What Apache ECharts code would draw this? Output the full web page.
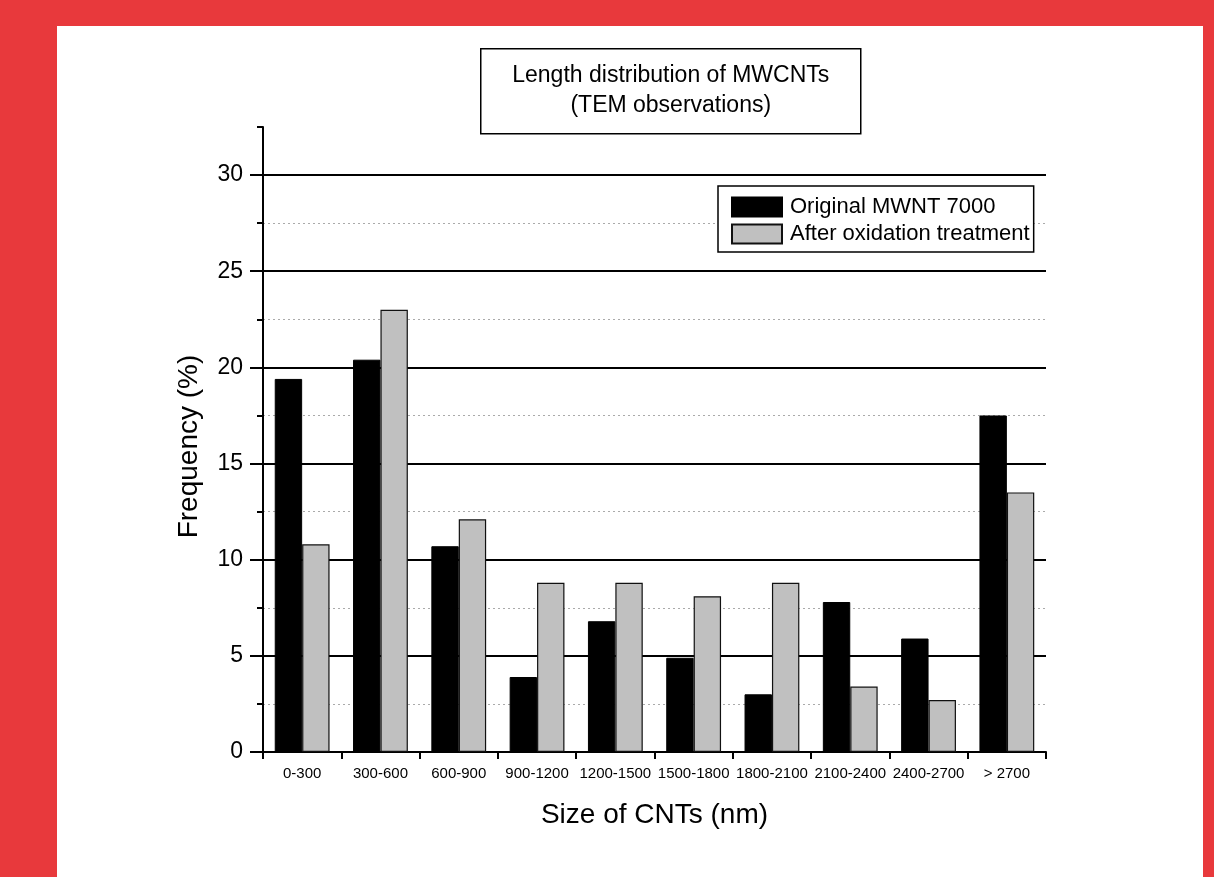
<!DOCTYPE html>
<html>
<head>
<meta charset="utf-8">
<script src="https://cdn.jsdelivr.net/npm/echarts@6/dist/echarts.min.js"></script>
<style>
  html, body { margin: 0; padding: 0; width: 1214px; height: 877px; background: #E8393C; overflow: hidden; }
  #panel { position: absolute; left: 57px; top: 26px; width: 1146px; height: 851px; background: #ffffff; }
  #chart { position: absolute; left: 0; top: 0; width: 1214px; height: 877px; }
</style>
</head>
<body>
<div id="panel"></div>
<div id="chart"></div>
<script>
const categories = ['0-300', '300-600', '600-900', '900-1200', '1200-1500', '1500-1800', '1800-2100', '2100-2400', '2400-2700', '> 2700'];
const originalValues = [19.4, 20.4, 10.7, 3.9, 6.8, 4.9, 3.0, 7.8, 5.9, 17.5];
const oxidizedValues = [10.8, 23.0, 12.1, 8.8, 8.8, 8.1, 8.8, 3.4, 2.7, 13.5];
const seriesNames = ['Original MWNT 7000', 'After oxidation treatment'];
const titleLines = ['Length distribution of MWCNTs', '(TEM observations)'];
const xAxisTitle = 'Size of CNTs (nm)';
const yAxisTitle = 'Frequency (%)';

const FONT = "'Liberation Sans', Arial, sans-serif";
const chart = echarts.init(document.getElementById('chart'), null, { renderer: 'canvas' });

const gridBase = { left: 263, right: 168, bottom: 125, containLabel: false };

chart.setOption({
  backgroundColor: 'transparent',
  animation: false,
  textStyle: { fontFamily: FONT },
  grid: [
    Object.assign({ top: 127 }, gridBase),
    Object.assign({ top: 175 }, gridBase)
  ],
  legend: {
    orient: 'vertical',
    left: 718,
    top: 186,
    padding: [10, 4, 7, 13],
    itemGap: 5,
    itemWidth: 50,
    itemHeight: 19,
    icon: 'rect',
    borderColor: '#000',
    borderWidth: 1.5,
    backgroundColor: '#fff',
    textStyle: { fontFamily: FONT, fontSize: 22, color: '#000', padding: [0, 0, 0, 3] },
    data: seriesNames
  },
  xAxis: [
    {
      type: 'category',
      gridIndex: 0,
      data: categories,
      boundaryGap: true,
      axisLine: { lineStyle: { color: '#000', width: 2 } },
      axisTick: { show: true, inside: false, length: 7, alignWithLabel: false, lineStyle: { color: '#000', width: 2 } },
      axisLabel: { fontFamily: FONT, fontSize: 15, color: '#000', margin: 14, interval: 0 },
      splitLine: { show: false },
      name: xAxisTitle,
      nameLocation: 'middle',
      nameGap: 49,
      nameTextStyle: { fontFamily: FONT, fontSize: 28, color: '#000' }
    },
    {
      type: 'category',
      gridIndex: 1,
      data: categories,
      show: false
    }
  ],
  yAxis: [
    {
      type: 'value',
      gridIndex: 0,
      min: 0,
      max: 32.5,
      interval: 2.5,
      axisLine: { show: true, lineStyle: { color: '#000', width: 2 } },
      axisTick: { show: true, inside: false, length: 6, lineStyle: { color: '#000', width: 2 } },
      axisLabel: { show: false },
      splitLine: { show: true, showMinLine: false, showMaxLine: false, lineStyle: { color: '#aaa', width: 1, type: [2, 3] } },
      name: yAxisTitle,
      nameLocation: 'middle',
      nameGap: 60,
      nameRotate: 90,
      nameTextStyle: { fontFamily: FONT, fontSize: 28, color: '#000', padding: [0, 14, 0, 0] }
    },
    {
      type: 'value',
      gridIndex: 1,
      min: 0,
      max: 30,
      interval: 5,
      axisLine: { show: true, lineStyle: { color: '#000', width: 2 } },
      axisTick: { show: true, inside: false, length: 13, lineStyle: { color: '#000', width: 2 } },
      axisLabel: { fontFamily: FONT, fontSize: 23, color: '#000', margin: 20 },
      splitLine: { show: true, showMinLine: false, lineStyle: { color: '#000', width: 2 } }
    }
  ],
  series: [
    {
      name: seriesNames[0],
      type: 'bar',
      xAxisIndex: 0,
      yAxisIndex: 0,
      data: originalValues,
      barGap: '0%',
      barCategoryGap: '30%',
      itemStyle: { color: '#000000', borderColor: '#000', borderWidth: 1 }
    },
    {
      name: seriesNames[1],
      type: 'bar',
      xAxisIndex: 0,
      yAxisIndex: 0,
      data: oxidizedValues,
      barGap: '0%',
      barCategoryGap: '30%',
      itemStyle: { color: '#C0C0C0', borderColor: '#111', borderWidth: 1.2 }
    }
  ],
  graphic: [
    {
      type: 'group',
      left: 480,
      top: 48,
      children: [
        { type: 'rect', shape: { x: 0, y: 0, width: 380, height: 85 }, style: { fill: '#fff', stroke: '#000', lineWidth: 1.5 } },
        { type: 'text', x: 190, y: 27, style: { text: titleLines[0], fontFamily: FONT, fontSize: 23, fill: '#000', align: 'center', verticalAlign: 'middle' } },
        { type: 'text', x: 190, y: 57, style: { text: titleLines[1], fontFamily: FONT, fontSize: 23, fill: '#000', align: 'center', verticalAlign: 'middle' } }
      ]
    }
  ]
});
</script>
</body>
</html>
